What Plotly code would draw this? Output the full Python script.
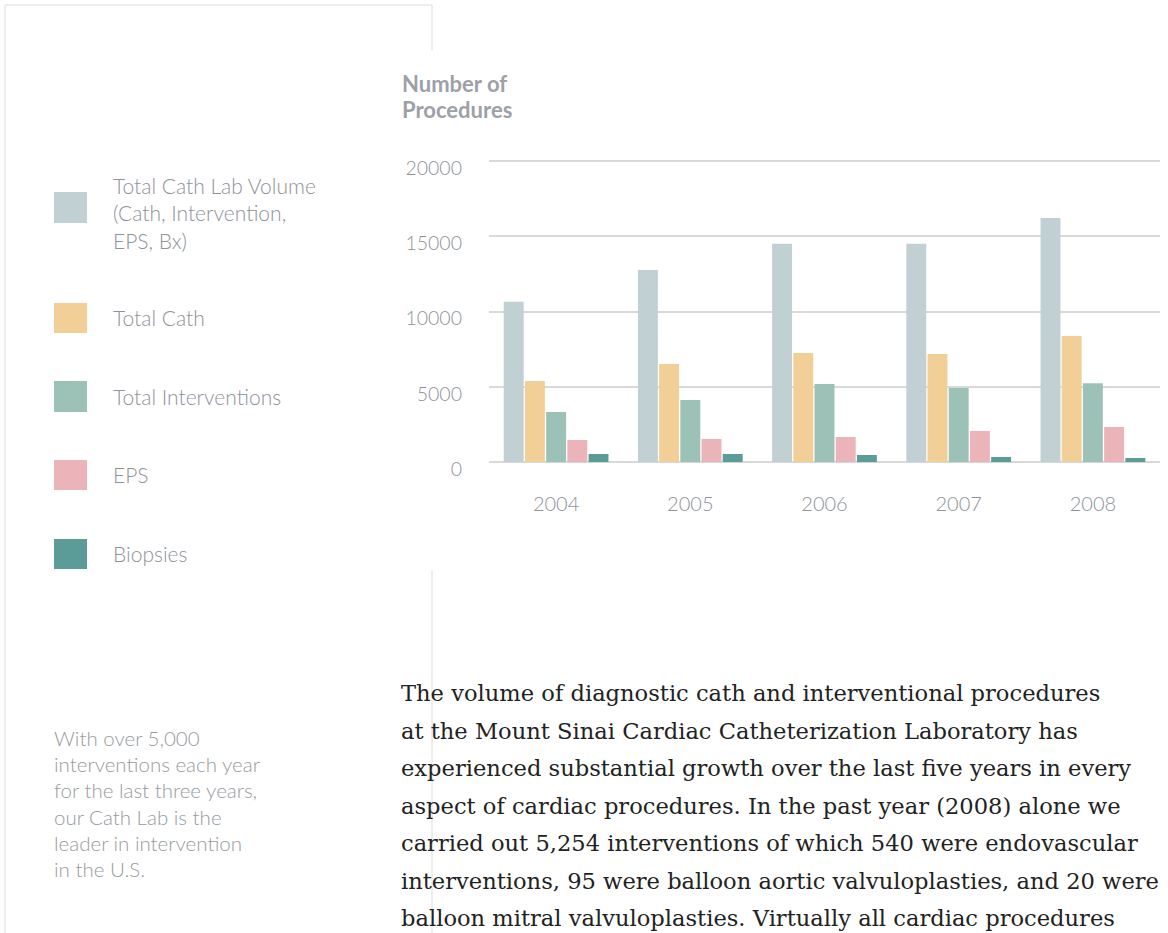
import plotly.graph_objects as go

W, H = 1168, 933

years = ["2004", "2005", "2006", "2007", "2008"]
series_names = ["Total Cath Lab Volume<br>(Cath, Intervention,<br>EPS, Bx)", "Total Cath",
                "Total Interventions", "EPS", "Biopsies"]
total_volume = [10650, 12770, 14500, 14500, 16220]
total_cath = [5400, 6530, 7260, 7190, 8390]
total_interventions = [3340, 4140, 5200, 4935, 5254]
eps = [1480, 1550, 1680, 2080, 2340]
biopsies = [550, 550, 485, 350, 285]
series_values = [total_volume, total_cath, total_interventions, eps, biopsies]
colors = ["#c1d0d3", "#f2cf97", "#9cc2b8", "#ebb4b9", "#5b9b98"]
y_ticks = [0, 5000, 10000, 15000, 20000]

side_lines = ["With over 5,000", "interventions each year", "for the last three years,",
              "our Cath Lab is the", "leader in intervention", "in the U.S."]
para_lines = [
    "The volume of diagnostic cath and interventional procedures",
    "at the Mount Sinai Cardiac Catheterization Laboratory has",
    "experienced substantial growth over the last five years in every",
    "aspect of cardiac procedures. In the past year (2008) alone we",
    "carried out 5,254 interventions of which 540 were endovascular",
    "interventions, 95 were balloon aortic valvuloplasties, and 20 were",
    "balloon mitral valvuloplasties. Virtually all cardiac procedures",
]

GRAY = "#8e9399"
SANS = "Lato, 'Open Sans', sans-serif"

def px(x):
    return x / W

def py(y):
    return 1 - y / H

fig = go.Figure()
for name, vals, c in zip(series_names, series_values, colors):
    fig.add_trace(go.Bar(x=years, y=vals, name=name, marker=dict(color=c, line=dict(width=0)),
                         showlegend=False, hoverinfo="skip"))

shapes = []
annotations = []

# legend (drawn manually)
leg_rows = [(192, 223, 213), (303, 333, 317), (381, 412, 396), (460, 490, 474), (539, 569, 553)]
for (y0, y1, ty), name, c in zip(leg_rows, series_names, colors):
    shapes.append(dict(type="rect", xref="paper", yref="paper", x0=px(54), x1=px(87),
                       y0=py(y1), y1=py(y0), fillcolor=c, line=dict(width=0)))
    annotations.append(dict(xref="paper", yref="paper", x=px(111), y=py(ty), text=name,
                            showarrow=False, xanchor="left", yanchor="middle", align="left",
                            font=dict(family=SANS, size=21, color=GRAY, weight=300)))

# frame lines
line_style = dict(color="#dcdcdc", width=1)
shapes += [
    dict(type="line", xref="paper", yref="paper", x0=px(5), x1=px(432), y0=py(5), y1=py(5), line=line_style),
    dict(type="line", xref="paper", yref="paper", x0=px(5), x1=px(5), y0=py(5), y1=py(933), line=line_style),
    dict(type="line", xref="paper", yref="paper", x0=px(432), x1=px(432), y0=py(5), y1=py(50), line=line_style),
    dict(type="line", xref="paper", yref="paper", x0=px(432), x1=px(432), y0=py(570), y1=py(933), line=line_style),
]

# axis title
for t, yy in [("Number of", 83), ("Procedures", 109)]:
    annotations.append(dict(xref="paper", yref="paper", x=px(400), y=py(yy), text=t,
                            showarrow=False, xanchor="left", yanchor="middle", align="left",
                            font=dict(family=SANS, size=22, color="#9da1a7", weight="bold")))

# side text
for i, t in enumerate(side_lines):
    annotations.append(dict(xref="paper", yref="paper", x=px(52), y=py(738 + i * 26.2), text=t,
                            showarrow=False, xanchor="left", yanchor="middle",
                            font=dict(family=SANS, size=20.5, color="#979ba1", weight=300)))

# paragraph
for i, t in enumerate(para_lines):
    annotations.append(dict(xref="paper", yref="paper", x=px(399), y=py(693 + i * 37.5), text=t,
                            showarrow=False, xanchor="left", yanchor="middle",
                            font=dict(family="'DejaVu Serif', serif", size=22.6, color="#222222")))

Y_MAX = 20200
fig.update_layout(
    width=W, height=H, autosize=False,
    margin=dict(l=0, r=0, t=0, b=0, autoexpand=False),
    paper_bgcolor="white", plot_bgcolor="white",
    barmode="group", bargap=0.21, bargroupgap=0.06,
    shapes=shapes, annotations=annotations,
    xaxis=dict(domain=[px(489), px(1160)], showgrid=False, showline=False, zeroline=False,
               automargin=False, fixedrange=True,
               tickfont=dict(family=SANS, size=20, color=GRAY, weight=300), ticks="", ticklabelstandoff=28),
    yaxis=dict(domain=[py(462.3), py(462.3 - Y_MAX * (462.3 - 161) / 20000)], range=[0, Y_MAX],
               tickvals=y_ticks, fixedrange=True,
               ticktext=[str(v) for v in y_ticks], showgrid=True, gridcolor="#d9d9d9", gridwidth=2,
               zeroline=True, zerolinecolor="#d9d9d9", zerolinewidth=2, showline=False,
               automargin=False,
               tickfont=dict(family=SANS, size=19.5, color=GRAY, weight=300), ticks="", ticklabelstandoff=26,
               ticklabelshift=7),
    showlegend=False,
)

fig.write_html("out.html", config={"displayModeBar": False, "staticPlot": True},
               post_script="document.body.style.margin='0';")
